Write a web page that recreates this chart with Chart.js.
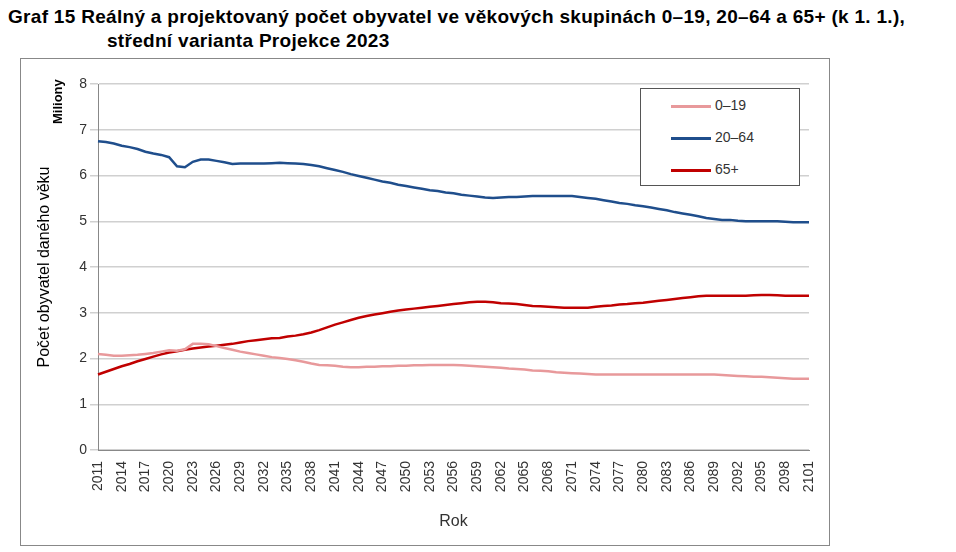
<!DOCTYPE html>
<html>
<head>
<meta charset="utf-8">
<script src="https://cdn.jsdelivr.net/npm/chart.js@4"></script>
<style>
  body { margin: 0; background: #fff; font-family: "Liberation Sans", Arial, sans-serif; }
  #title { position: absolute; left: 8px; top: 5px; font-weight: bold; font-size: 19px; line-height: 24px; color: #000; white-space: nowrap; letter-spacing: 0.3px; }
  #title .l2 { padding-left: 99px; }
  #box { position: absolute; left: 20px; top: 58px; width: 810px; height: 488px; border: 1px solid #888; box-sizing: border-box; }
  #miliony { position: absolute; left: 50px; top: 124px; transform: rotate(-90deg); transform-origin: left top; font-weight: bold; font-size: 13px; }
  #legend { position: absolute; left: 640px; top: 88px; width: 160px; height: 98px; border: 1px solid #555; background: #fff; box-sizing: border-box; font-size: 14px; color: #333; }
  #legend div { position: absolute; left: 30px; height: 20px; line-height: 20px; }
  #legend span { display: inline-block; width: 40px; height: 3px; vertical-align: middle; margin-right: 4px; }
</style>
</head>
<body>
<div id="title">Graf 15 Reálný a projektovaný počet obyvatel ve věkových skupinách 0–19, 20–64 a 65+ (k 1. 1.),<br><span class="l2">střední varianta Projekce 2023</span></div>
<div id="box"><canvas id="chart"></canvas></div>
<div id="miliony">Miliony</div>
<div id="legend">
  <div style="top:6px"><span style="background:#e8999b"></span>0–19</div>
  <div style="top:38px"><span style="background:#1f4e8c"></span>20–64</div>
  <div style="top:70px"><span style="background:#c00000"></span>65+</div>
</div>
<script>
const years = [];
for (let y = 2011; y <= 2101; y++) years.push(String(y));

const age0to19 = [2.10,2.08,2.06,2.06,2.07,2.08,2.10,2.12,2.15,2.18,
  2.17,2.20,2.32,2.32,2.31,2.27,2.23,2.19,2.15,2.12,
  2.09,2.06,2.03,2.01,1.99,1.96,1.93,1.89,1.86,1.85,
  1.84,1.82,1.81,1.81,1.82,1.82,1.83,1.83,1.84,1.84,
  1.85,1.85,1.86,1.86,1.86,1.86,1.85,1.84,1.83,1.82,
  1.81,1.80,1.78,1.77,1.76,1.74,1.73,1.72,1.70,1.69,
  1.68,1.67,1.66,1.65,1.65,1.65,1.65,1.65,1.65,1.65,
  1.65,1.65,1.65,1.65,1.65,1.65,1.65,1.65,1.65,1.64,
  1.63,1.62,1.61,1.60,1.60,1.59,1.58,1.57,1.56,1.56,1.56];

const age20to64 = [6.75,6.73,6.70,6.65,6.62,6.58,6.52,6.48,6.45,6.40,
  6.20,6.18,6.30,6.35,6.35,6.32,6.29,6.25,6.26,6.26,
  6.26,6.26,6.27,6.28,6.27,6.26,6.25,6.23,6.20,6.16,
  6.12,6.08,6.03,5.99,5.95,5.91,5.87,5.84,5.80,5.77,
  5.74,5.71,5.68,5.66,5.63,5.61,5.58,5.56,5.54,5.52,
  5.51,5.52,5.53,5.53,5.54,5.55,5.55,5.55,5.55,5.55,
  5.55,5.53,5.51,5.49,5.46,5.43,5.40,5.38,5.35,5.33,
  5.30,5.27,5.24,5.20,5.17,5.14,5.11,5.07,5.05,5.03,
  5.03,5.01,5.00,5.00,5.00,5.00,5.00,4.99,4.98,4.98,4.98];

const age65plus = [1.65,1.71,1.77,1.83,1.88,1.94,1.99,2.04,2.09,2.13,
  2.16,2.19,2.22,2.24,2.26,2.28,2.30,2.32,2.35,2.38,
  2.40,2.42,2.44,2.45,2.48,2.50,2.53,2.57,2.62,2.68,
  2.74,2.79,2.84,2.89,2.93,2.96,2.99,3.02,3.05,3.07,
  3.09,3.11,3.13,3.15,3.17,3.19,3.21,3.23,3.24,3.24,
  3.23,3.21,3.20,3.19,3.17,3.15,3.14,3.13,3.12,3.11,
  3.11,3.11,3.11,3.13,3.15,3.16,3.18,3.19,3.21,3.22,
  3.24,3.26,3.28,3.30,3.32,3.34,3.36,3.37,3.37,3.37,
  3.37,3.37,3.37,3.38,3.39,3.39,3.38,3.37,3.37,3.37,3.37];

const yTicks = [0,1,2,3,4,5,6,7,8];

new Chart(document.getElementById("chart"), {
  type: "line",
  data: {
    labels: years,
    datasets: [
      { label: "0–19", data: age0to19, borderColor: "#e8999b", borderWidth: 2.5 },
      { label: "20–64", data: age20to64, borderColor: "#1f4e8c", borderWidth: 2.5 },
      { label: "65+", data: age65plus, borderColor: "#c00000", borderWidth: 2.5 }
    ]
  },
  options: {
    responsive: true,
    maintainAspectRatio: false,
    animation: false,
    elements: { point: { radius: 0 }, line: { tension: 0 } },
    layout: { padding: { left: 10, top: 25, right: 20, bottom: 10 } },
    plugins: { legend: { display: false }, tooltip: { enabled: false } },
    scales: {
      x: {
        grid: { display: false },
        border: { color: "#888" },
        afterFit: s => { s.height = 85; },
        ticks: {
          autoSkip: false, maxRotation: 90, minRotation: 90, color: "#333",
          font: { size: 14, family: "Liberation Sans" },
          callback: (v, i) => i % 3 === 0 ? years[i] : ""
        },
        title: { display: true, text: "Rok", color: "#333", font: { size: 16, family: "Liberation Sans" } }
      },
      y: {
        min: 0, max: 8,
        afterBuildTicks: s => { s.ticks = yTicks.map(v => ({ value: v })); },
        afterFit: s => { s.width = 67; },
        grid: { color: "#d0d0d0", lineWidth: 1.5 },
        border: { color: "#888" },
        ticks: { color: "#333", font: { size: 14, family: "Liberation Sans" } },
        title: { display: true, text: "Počet obyvatel daného věku", color: "#000", font: { size: 16, family: "Liberation Sans" } }
      }
    }
  }
});
</script>
</body>
</html>
